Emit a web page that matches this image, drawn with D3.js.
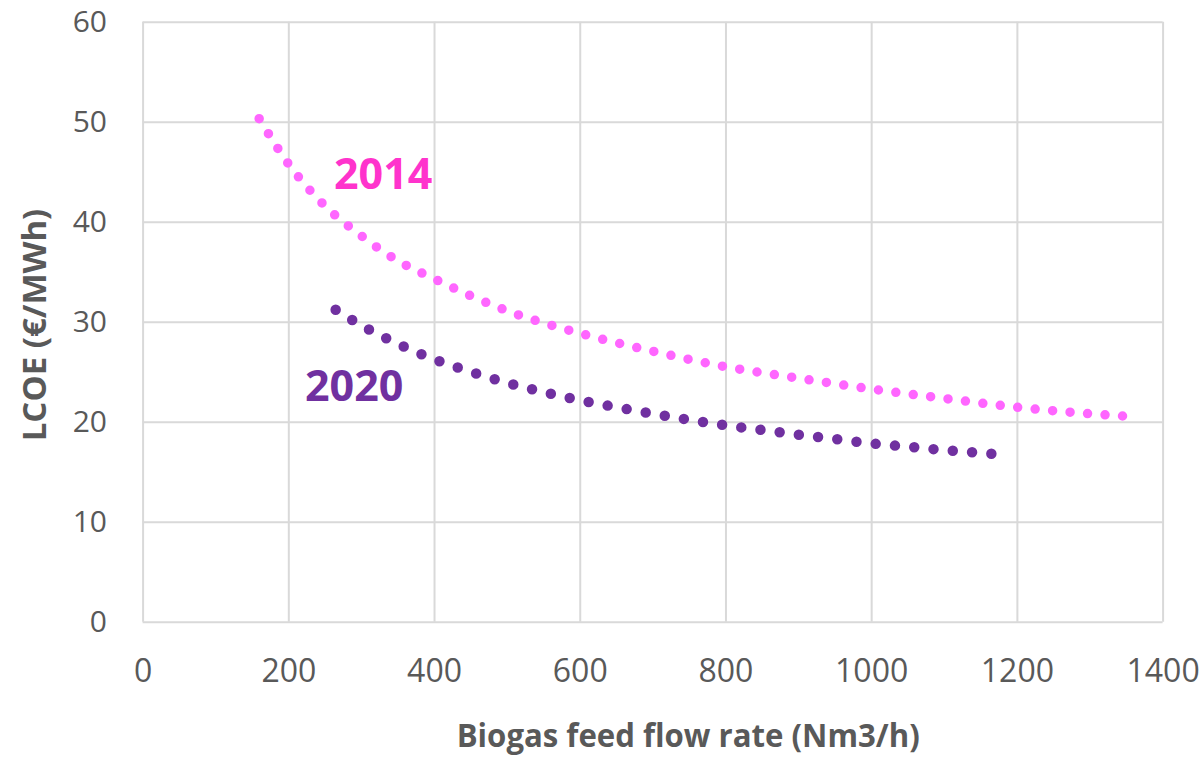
<!DOCTYPE html>
<html>
<head>
<meta charset="utf-8">
<script src="https://cdn.jsdelivr.net/npm/d3@7"></script>
<style>
  body { margin: 0; background: #fff; }
  svg { display: block; }
  text { font-family: "Open Sans", "DejaVu Sans", sans-serif; fill: #595959; }
</style>
</head>
<body>
<svg class="lcoe_chart" width="1204" height="757"></svg>
<script>
// flow rates (Nm3/h) and LCOE (€/MWh)
const flow2014 = [160, 200, 250, 300, 350, 400, 450, 500, 600, 700, 800, 900, 1000, 1100, 1200, 1300, 1345];
const lcoe2014 = [50.3, 45.8, 41.6, 38.6, 36.1, 34.3, 32.6, 31.1, 28.85, 27.05, 25.5, 24.35, 23.27, 22.33, 21.45, 20.8, 20.57];

const flow2020 = [265, 300, 350, 400, 450, 500, 550, 600, 650, 700, 750, 800, 850, 900, 950, 1000, 1050, 1100, 1165];
const lcoe2020 = [31.2, 29.65, 27.8, 26.25, 25.0, 23.9, 22.98, 22.15, 21.45, 20.8, 20.2, 19.64, 19.17, 18.7, 18.27, 17.83, 17.5, 17.16, 16.8];

const xTicks = [0, 200, 400, 600, 800, 1000, 1200, 1400];
const yTicks = [0, 10, 20, 30, 40, 50, 60];

const chart = d3.select('.lcoe_chart');

const x = d3.scaleLinear().domain([0, 1400]).range([142.6, 1162.6]);
const y = d3.scaleLinear().domain([0, 60]).range([621.7, 21.7]);

const grid = '#d9d9d9';

// y axis + horizontal grid
const yAxisG = chart.append('g')
    .attr('transform', `translate(${x(0)},0)`)
    .call(d3.axisLeft(y).tickValues(yTicks).tickSize(-(x(1400) - x(0))));
yAxisG.select('.domain').remove();
yAxisG.selectAll('line').attr('stroke', grid).attr('stroke-width', 2);
yAxisG.selectAll('text')
    .attr('x', -35.6)
    .attr('dy', '0.34em')
    .style('font-size', '30px')
    .attr('fill', '#595959');

// x axis + vertical grid
const xAxisG = chart.append('g')
    .attr('transform', `translate(0,${y(0)})`)
    .call(d3.axisBottom(x).tickValues(xTicks).tickFormat(d3.format('d')).tickSize(-(y(0) - y(60))));
xAxisG.select('.domain').remove();
xAxisG.selectAll('line').attr('stroke', grid).attr('stroke-width', 2);
xAxisG.selectAll('text')
    .attr('y', 60)
    .attr('dy', 0)
    .style('font-size', '32px')
    .attr('fill', '#595959');

// axis titles
chart.append('text')
    .attr('x', 456.7)
    .attr('y', 747)
    .attr('textLength', 463)
    .attr('lengthAdjust', 'spacingAndGlyphs')
    .style('font-size', '32px')
    .style('font-weight', 'bold')
    .text('Biogas feed flow rate (Nm3/h)');

chart.append('text')
    .attr('transform', 'translate(45.5,325) rotate(-90)')
    .attr('text-anchor', 'middle')
    .style('font-size', '33px')
    .style('font-weight', 'bold')
    .text('LCOE (€/MWh)');

// dotted curves, gap tuned so a dot sits on both ends
const line = d3.line()
    .x(d => x(d[0]))
    .y(d => y(d[1]))
    .curve(d3.curveMonotoneX);

const dotted = (flows, values, color, width, gap) => {
    const path = chart.append('path')
        .attr('d', line(d3.zip(flows, values)))
        .attr('fill', 'none')
        .attr('stroke', color)
        .attr('stroke-width', width)
        .attr('stroke-linecap', 'round');
    const len = path.node().getTotalLength();
    // shave a hair off so the last dot is not lost to rounding
    const step = (len - 0.05) / Math.round(len / gap);
    path.attr('stroke-dasharray', `0 ${step}`);
};

dotted(flow2014, lcoe2014, '#ff66ff', 9.5, 17.4);
dotted(flow2020, lcoe2020, '#7030a0', 10.5, 19.4);

// series labels
chart.append('text')
    .attr('x', 334)
    .attr('y', 189)
    .style('font-size', '43px')
    .style('font-weight', 'bold')
    .style('fill', '#ff33cc')
    .text('2014');

chart.append('text')
    .attr('x', 305)
    .attr('y', 401)
    .style('font-size', '43px')
    .style('font-weight', 'bold')
    .style('fill', '#7030a0')
    .text('2020');
</script>
</body>
</html>
